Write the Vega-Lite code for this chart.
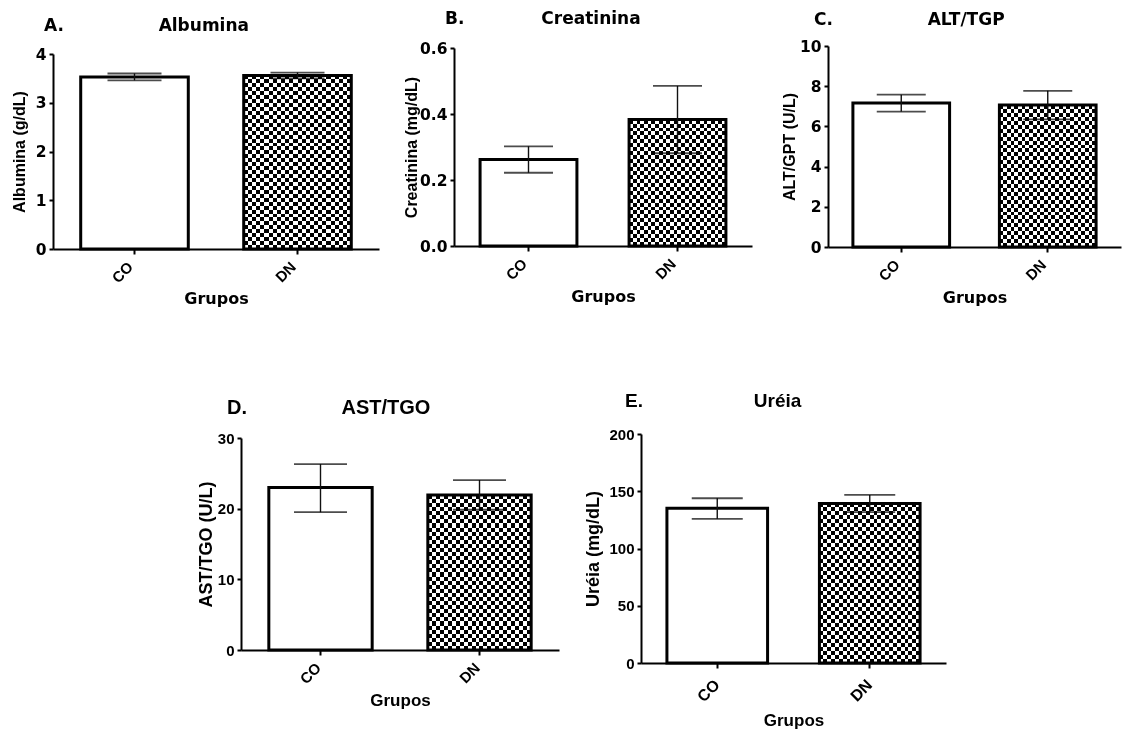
{
  "$schema": "https://vega.github.io/schema/vega-lite/v6.json",
  "padding": {"left": 11, "top": 5, "right": 2, "bottom": 2},
  "background": "white",
  "spacing": 72,
  "vconcat": [
    {
      "spacing": 24,
      "hconcat": [
        {
          "spacing": 0,
          "vconcat": [
            {"width": 1, "height": 11, "data": {"values": []}, "mark": "rule", "encoding": {}},
            {
              "width": 326, "height": 195,
              "title": {"text": "A.\u00a0\u00a0\u00a0\u00a0\u00a0\u00a0\u00a0\u00a0\u00a0\u00a0\u00a0\u00a0\u00a0\u00a0\u00a0\u00a0Albumina", "dx": -9, "offset": 12.5, "fontSize": 17, "font": "DejaVu Sans"},
              "data": {"values": [
                {"grupo": "CO", "media": 3.53, "lo": 3.46, "hi": 3.6},
                {"grupo": "DN", "media": 3.56, "lo": 3.5, "hi": 3.62}
              ]},
              "encoding": {
                "x": {"field": "grupo", "type": "nominal", "sort": ["CO", "DN"], "scale": {"paddingInner": 0, "paddingOuter": 0}, "axis": {"title": "Grupos", "titlePadding": 5, "labelOffset": -4, "titleFont": "DejaVu Sans", "titleFontSize": 16}},
                "y": {"field": "media", "type": "quantitative", "scale": {"domain": [0, 4], "nice": false}, "axis": {"title": "Albumina (g/dL)", "values": [0, 1, 2, 3, 4], "titlePadding": 7.5, "labelFont": "DejaVu Sans", "labelFontSize": 15.5}}
              },
              "layer": [
                {"transform": [{"filter": "datum.grupo === 'DN'"}], "mark": {"type": "bar", "width": {"band": 0.66}, "strokeWidth": 0}},
                {"transform": [{"filter": "datum.grupo === 'DN'"}], "mark": {"type": "bar", "width": {"band": 0.66}, "strokeWidth": 0, "blend": "difference",
                  "fill": {"gradient": "linear", "x1": 0, "y1": 0, "x2": 0, "y2": 1, "stops": [
                    {"offset":0,"color":"#000"},
                    {"offset":0.0227,"color":"#000"},{"offset":0.0227,"color":"#fff"},
                    {"offset":0.0455,"color":"#fff"},{"offset":0.0455,"color":"#000"},
                    {"offset":0.0682,"color":"#000"},{"offset":0.0682,"color":"#fff"},
                    {"offset":0.0909,"color":"#fff"},{"offset":0.0909,"color":"#000"},
                    {"offset":0.1136,"color":"#000"},{"offset":0.1136,"color":"#fff"},
                    {"offset":0.1364,"color":"#fff"},{"offset":0.1364,"color":"#000"},
                    {"offset":0.1591,"color":"#000"},{"offset":0.1591,"color":"#fff"},
                    {"offset":0.1818,"color":"#fff"},{"offset":0.1818,"color":"#000"},
                    {"offset":0.2045,"color":"#000"},{"offset":0.2045,"color":"#fff"},
                    {"offset":0.2273,"color":"#fff"},{"offset":0.2273,"color":"#000"},
                    {"offset":0.25,"color":"#000"},{"offset":0.25,"color":"#fff"},
                    {"offset":0.2727,"color":"#fff"},{"offset":0.2727,"color":"#000"},
                    {"offset":0.2955,"color":"#000"},{"offset":0.2955,"color":"#fff"},
                    {"offset":0.3182,"color":"#fff"},{"offset":0.3182,"color":"#000"},
                    {"offset":0.3409,"color":"#000"},{"offset":0.3409,"color":"#fff"},
                    {"offset":0.3636,"color":"#fff"},{"offset":0.3636,"color":"#000"},
                    {"offset":0.3864,"color":"#000"},{"offset":0.3864,"color":"#fff"},
                    {"offset":0.4091,"color":"#fff"},{"offset":0.4091,"color":"#000"},
                    {"offset":0.4318,"color":"#000"},{"offset":0.4318,"color":"#fff"},
                    {"offset":0.4545,"color":"#fff"},{"offset":0.4545,"color":"#000"},
                    {"offset":0.4773,"color":"#000"},{"offset":0.4773,"color":"#fff"},
                    {"offset":0.5,"color":"#fff"},{"offset":0.5,"color":"#000"},
                    {"offset":0.5227,"color":"#000"},{"offset":0.5227,"color":"#fff"},
                    {"offset":0.5455,"color":"#fff"},{"offset":0.5455,"color":"#000"},
                    {"offset":0.5682,"color":"#000"},{"offset":0.5682,"color":"#fff"},
                    {"offset":0.5909,"color":"#fff"},{"offset":0.5909,"color":"#000"},
                    {"offset":0.6136,"color":"#000"},{"offset":0.6136,"color":"#fff"},
                    {"offset":0.6364,"color":"#fff"},{"offset":0.6364,"color":"#000"},
                    {"offset":0.6591,"color":"#000"},{"offset":0.6591,"color":"#fff"},
                    {"offset":0.6818,"color":"#fff"},{"offset":0.6818,"color":"#000"},
                    {"offset":0.7045,"color":"#000"},{"offset":0.7045,"color":"#fff"},
                    {"offset":0.7273,"color":"#fff"},{"offset":0.7273,"color":"#000"},
                    {"offset":0.75,"color":"#000"},{"offset":0.75,"color":"#fff"},
                    {"offset":0.7727,"color":"#fff"},{"offset":0.7727,"color":"#000"},
                    {"offset":0.7955,"color":"#000"},{"offset":0.7955,"color":"#fff"},
                    {"offset":0.8182,"color":"#fff"},{"offset":0.8182,"color":"#000"},
                    {"offset":0.8409,"color":"#000"},{"offset":0.8409,"color":"#fff"},
                    {"offset":0.8636,"color":"#fff"},{"offset":0.8636,"color":"#000"},
                    {"offset":0.8864,"color":"#000"},{"offset":0.8864,"color":"#fff"},
                    {"offset":0.9091,"color":"#fff"},{"offset":0.9091,"color":"#000"},
                    {"offset":0.9318,"color":"#000"},{"offset":0.9318,"color":"#fff"},
                    {"offset":0.9545,"color":"#fff"},{"offset":0.9545,"color":"#000"},
                    {"offset":0.9773,"color":"#000"},{"offset":0.9773,"color":"#fff"},
                    {"offset":1,"color":"#fff"}
                  ]}}},
                {"mark": {"type": "bar", "width": {"band": 0.66}, "fill": "#fff", "fillOpacity": 0, "stroke": "#000", "strokeWidth": 3}},
                {"mark": {"type": "rule", "stroke": "#111", "strokeWidth": 1.4}, "encoding": {"y": {"field": "lo", "type": "quantitative"}, "y2": {"field": "hi"}}},
                {"mark": {"type": "tick", "size": 54, "thickness": 1.8, "color": "#000"}, "encoding": {"y": {"field": "hi", "type": "quantitative"}}},
                {"mark": {"type": "tick", "size": 54, "thickness": 1.8, "color": "#000"}, "encoding": {"y": {"field": "lo", "type": "quantitative"}}}
              ]
            }
          ]
        },
        {
          "spacing": 0,
          "vconcat": [
            {"width": 303, "height": 5, "data": {"values": []}, "mark": "rule", "encoding": {}},
            {
              "width": 298, "height": 198,
              "title": {"text": "B.\u00a0\u00a0\u00a0\u00a0\u00a0\u00a0\u00a0\u00a0\u00a0\u00a0\u00a0\u00a0\u00a0Creatinina", "dx": -9, "offset": 13, "fontSize": 17, "font": "DejaVu Sans"},
              "data": {"values": [
                {"grupo": "CO", "media": 0.262, "lo": 0.222, "hi": 0.302},
                {"grupo": "DN", "media": 0.383, "lo": 0.281, "hi": 0.485}
              ]},
              "encoding": {
                "x": {"field": "grupo", "type": "nominal", "sort": ["CO", "DN"], "scale": {"paddingInner": 0, "paddingOuter": 0}, "axis": {"title": "Grupos", "titlePadding": 6, "labelOffset": -4, "titleFont": "DejaVu Sans", "titleFontSize": 16}},
                "y": {"field": "media", "type": "quantitative", "scale": {"domain": [0, 0.6], "nice": false}, "axis": {"title": "Creatinina (mg/dL)", "values": [0, 0.2, 0.4, 0.6], "format": ".1f", "titlePadding": 0, "labelFont": "DejaVu Sans", "labelFontSize": 15.5}}
              },
              "layer": [
                {"transform": [{"filter": "datum.grupo === 'DN'"}], "mark": {"type": "bar", "width": {"band": 0.65}, "strokeWidth": 0}},
                {"transform": [{"filter": "datum.grupo === 'DN'"}], "mark": {"type": "bar", "width": {"band": 0.65}, "strokeWidth": 0, "blend": "difference",
                  "fill": {"gradient": "linear", "x1": 0, "y1": 0, "x2": 0, "y2": 1, "stops": [
                    {"offset":0,"color":"#000"},
                    {"offset":0.03125,"color":"#000"},{"offset":0.03125,"color":"#fff"},
                    {"offset":0.0625,"color":"#fff"},{"offset":0.0625,"color":"#000"},
                    {"offset":0.09375,"color":"#000"},{"offset":0.09375,"color":"#fff"},
                    {"offset":0.125,"color":"#fff"},{"offset":0.125,"color":"#000"},
                    {"offset":0.15625,"color":"#000"},{"offset":0.15625,"color":"#fff"},
                    {"offset":0.1875,"color":"#fff"},{"offset":0.1875,"color":"#000"},
                    {"offset":0.21875,"color":"#000"},{"offset":0.21875,"color":"#fff"},
                    {"offset":0.25,"color":"#fff"},{"offset":0.25,"color":"#000"},
                    {"offset":0.28125,"color":"#000"},{"offset":0.28125,"color":"#fff"},
                    {"offset":0.3125,"color":"#fff"},{"offset":0.3125,"color":"#000"},
                    {"offset":0.34375,"color":"#000"},{"offset":0.34375,"color":"#fff"},
                    {"offset":0.375,"color":"#fff"},{"offset":0.375,"color":"#000"},
                    {"offset":0.40625,"color":"#000"},{"offset":0.40625,"color":"#fff"},
                    {"offset":0.4375,"color":"#fff"},{"offset":0.4375,"color":"#000"},
                    {"offset":0.46875,"color":"#000"},{"offset":0.46875,"color":"#fff"},
                    {"offset":0.5,"color":"#fff"},{"offset":0.5,"color":"#000"},
                    {"offset":0.53125,"color":"#000"},{"offset":0.53125,"color":"#fff"},
                    {"offset":0.5625,"color":"#fff"},{"offset":0.5625,"color":"#000"},
                    {"offset":0.59375,"color":"#000"},{"offset":0.59375,"color":"#fff"},
                    {"offset":0.625,"color":"#fff"},{"offset":0.625,"color":"#000"},
                    {"offset":0.65625,"color":"#000"},{"offset":0.65625,"color":"#fff"},
                    {"offset":0.6875,"color":"#fff"},{"offset":0.6875,"color":"#000"},
                    {"offset":0.71875,"color":"#000"},{"offset":0.71875,"color":"#fff"},
                    {"offset":0.75,"color":"#fff"},{"offset":0.75,"color":"#000"},
                    {"offset":0.78125,"color":"#000"},{"offset":0.78125,"color":"#fff"},
                    {"offset":0.8125,"color":"#fff"},{"offset":0.8125,"color":"#000"},
                    {"offset":0.84375,"color":"#000"},{"offset":0.84375,"color":"#fff"},
                    {"offset":0.875,"color":"#fff"},{"offset":0.875,"color":"#000"},
                    {"offset":0.90625,"color":"#000"},{"offset":0.90625,"color":"#fff"},
                    {"offset":0.9375,"color":"#fff"},{"offset":0.9375,"color":"#000"},
                    {"offset":0.96875,"color":"#000"},{"offset":0.96875,"color":"#fff"},
                    {"offset":1,"color":"#fff"}
                  ]}}},
                {"mark": {"type": "bar", "width": {"band": 0.65}, "fill": "#fff", "fillOpacity": 0, "stroke": "#000", "strokeWidth": 3}},
                {"mark": {"type": "rule", "stroke": "#111", "strokeWidth": 1.4}, "encoding": {"y": {"field": "lo", "type": "quantitative"}, "y2": {"field": "hi"}}},
                {"mark": {"type": "tick", "size": 49, "thickness": 1.8, "color": "#000"}, "encoding": {"y": {"field": "hi", "type": "quantitative"}}},
                {"mark": {"type": "tick", "size": 49, "thickness": 1.8, "color": "#000"}, "encoding": {"y": {"field": "lo", "type": "quantitative"}}}
              ]
            }
          ]
        },
        {
          "spacing": 0,
          "vconcat": [
            {"width": 1, "height": 5, "data": {"values": []}, "mark": "rule", "encoding": {}},
            {
              "width": 293, "height": 201,
              "title": {"text": "C.\u00a0\u00a0\u00a0\u00a0\u00a0\u00a0\u00a0\u00a0\u00a0\u00a0\u00a0\u00a0\u00a0\u00a0\u00a0\u00a0ALT/TGP", "dx": -14, "offset": 10.5, "fontSize": 17, "font": "DejaVu Sans"},
              "data": {"values": [
                {"grupo": "CO", "media": 7.16, "lo": 6.74, "hi": 7.58},
                {"grupo": "DN", "media": 7.06, "lo": 6.35, "hi": 7.77}
              ]},
              "encoding": {
                "x": {"field": "grupo", "type": "nominal", "sort": ["CO", "DN"], "scale": {"paddingInner": 0, "paddingOuter": 0}, "axis": {"title": "Grupos", "titlePadding": 6, "labelOffset": -4, "titleFont": "DejaVu Sans", "titleFontSize": 16}},
                "y": {"field": "media", "type": "quantitative", "scale": {"domain": [0, 10], "nice": false}, "axis": {"title": "ALT/GPT (U/L)", "values": [0, 2, 4, 6, 8, 10], "titlePadding": 2, "labelFont": "DejaVu Sans", "labelFontSize": 15.5}}
              },
              "layer": [
                {"transform": [{"filter": "datum.grupo === 'DN'"}], "mark": {"type": "bar", "width": {"band": 0.66}, "strokeWidth": 0}},
                {"transform": [{"filter": "datum.grupo === 'DN'"}], "mark": {"type": "bar", "width": {"band": 0.66}, "strokeWidth": 0, "blend": "difference",
                  "fill": {"gradient": "linear", "x1": 0, "y1": 0, "x2": 0, "y2": 1, "stops": [
                    {"offset":0,"color":"#000"},
                    {"offset":0.0278,"color":"#000"},{"offset":0.0278,"color":"#fff"},
                    {"offset":0.0556,"color":"#fff"},{"offset":0.0556,"color":"#000"},
                    {"offset":0.0833,"color":"#000"},{"offset":0.0833,"color":"#fff"},
                    {"offset":0.1111,"color":"#fff"},{"offset":0.1111,"color":"#000"},
                    {"offset":0.1389,"color":"#000"},{"offset":0.1389,"color":"#fff"},
                    {"offset":0.1667,"color":"#fff"},{"offset":0.1667,"color":"#000"},
                    {"offset":0.1944,"color":"#000"},{"offset":0.1944,"color":"#fff"},
                    {"offset":0.2222,"color":"#fff"},{"offset":0.2222,"color":"#000"},
                    {"offset":0.25,"color":"#000"},{"offset":0.25,"color":"#fff"},
                    {"offset":0.2778,"color":"#fff"},{"offset":0.2778,"color":"#000"},
                    {"offset":0.3056,"color":"#000"},{"offset":0.3056,"color":"#fff"},
                    {"offset":0.3333,"color":"#fff"},{"offset":0.3333,"color":"#000"},
                    {"offset":0.3611,"color":"#000"},{"offset":0.3611,"color":"#fff"},
                    {"offset":0.3889,"color":"#fff"},{"offset":0.3889,"color":"#000"},
                    {"offset":0.4167,"color":"#000"},{"offset":0.4167,"color":"#fff"},
                    {"offset":0.4444,"color":"#fff"},{"offset":0.4444,"color":"#000"},
                    {"offset":0.4722,"color":"#000"},{"offset":0.4722,"color":"#fff"},
                    {"offset":0.5,"color":"#fff"},{"offset":0.5,"color":"#000"},
                    {"offset":0.5278,"color":"#000"},{"offset":0.5278,"color":"#fff"},
                    {"offset":0.5556,"color":"#fff"},{"offset":0.5556,"color":"#000"},
                    {"offset":0.5833,"color":"#000"},{"offset":0.5833,"color":"#fff"},
                    {"offset":0.6111,"color":"#fff"},{"offset":0.6111,"color":"#000"},
                    {"offset":0.6389,"color":"#000"},{"offset":0.6389,"color":"#fff"},
                    {"offset":0.6667,"color":"#fff"},{"offset":0.6667,"color":"#000"},
                    {"offset":0.6944,"color":"#000"},{"offset":0.6944,"color":"#fff"},
                    {"offset":0.7222,"color":"#fff"},{"offset":0.7222,"color":"#000"},
                    {"offset":0.75,"color":"#000"},{"offset":0.75,"color":"#fff"},
                    {"offset":0.7778,"color":"#fff"},{"offset":0.7778,"color":"#000"},
                    {"offset":0.8056,"color":"#000"},{"offset":0.8056,"color":"#fff"},
                    {"offset":0.8333,"color":"#fff"},{"offset":0.8333,"color":"#000"},
                    {"offset":0.8611,"color":"#000"},{"offset":0.8611,"color":"#fff"},
                    {"offset":0.8889,"color":"#fff"},{"offset":0.8889,"color":"#000"},
                    {"offset":0.9167,"color":"#000"},{"offset":0.9167,"color":"#fff"},
                    {"offset":0.9444,"color":"#fff"},{"offset":0.9444,"color":"#000"},
                    {"offset":0.9722,"color":"#000"},{"offset":0.9722,"color":"#fff"},
                    {"offset":1,"color":"#fff"}
                  ]}}},
                {"mark": {"type": "bar", "width": {"band": 0.66}, "fill": "#fff", "fillOpacity": 0, "stroke": "#000", "strokeWidth": 3}},
                {"mark": {"type": "rule", "stroke": "#111", "strokeWidth": 1.4}, "encoding": {"y": {"field": "lo", "type": "quantitative"}, "y2": {"field": "hi"}}},
                {"mark": {"type": "tick", "size": 49, "thickness": 1.8, "color": "#000"}, "encoding": {"y": {"field": "hi", "type": "quantitative"}}},
                {"mark": {"type": "tick", "size": 49, "thickness": 1.8, "color": "#000"}, "encoding": {"y": {"field": "lo", "type": "quantitative"}}}
              ]
            }
          ]
        }
      ]
    },
    {
      "spacing": 25,
      "hconcat": [
        {"width": 119, "height": 1, "data": {"values": []}, "mark": "rule", "encoding": {}},
        {
          "spacing": 0,
          "vconcat": [
            {"width": 1, "height": 19, "data": {"values": []}, "mark": "rule", "encoding": {}},
            {
              "width": 318, "height": 212,
              "title": {"text": "D.\u00a0\u00a0\u00a0\u00a0\u00a0\u00a0\u00a0\u00a0\u00a0\u00a0\u00a0\u00a0\u00a0\u00a0\u00a0\u00a0\u00a0AST/TGO", "dx": -14, "offset": 13, "fontSize": 20},
              "data": {"values": [
                {"grupo": "CO", "media": 23.0, "lo": 19.5, "hi": 26.3},
                {"grupo": "DN", "media": 21.95, "lo": 19.85, "hi": 24.05}
              ]},
              "encoding": {
                "x": {"field": "grupo", "type": "nominal", "sort": ["CO", "DN"], "scale": {"paddingInner": 0, "paddingOuter": 0}, "axis": {"title": "Grupos", "titlePadding": 6, "labelOffset": -2}},
                "y": {"field": "media", "type": "quantitative", "scale": {"domain": [0, 30], "nice": false}, "axis": {"title": "AST/TGO (U/L)", "values": [0, 10, 20, 30], "titlePadding": 2, "titleFontSize": 18}}
              },
              "layer": [
                {"transform": [{"filter": "datum.grupo === 'DN'"}], "mark": {"type": "bar", "width": {"band": 0.65}, "strokeWidth": 0}},
                {"transform": [{"filter": "datum.grupo === 'DN'"}], "mark": {"type": "bar", "width": {"band": 0.65}, "strokeWidth": 0, "blend": "difference",
                  "fill": {"gradient": "linear", "x1": 0, "y1": 0, "x2": 0, "y2": 1, "stops": [
                    {"offset":0,"color":"#000"},
                    {"offset":0.0263,"color":"#000"},{"offset":0.0263,"color":"#fff"},
                    {"offset":0.0526,"color":"#fff"},{"offset":0.0526,"color":"#000"},
                    {"offset":0.0789,"color":"#000"},{"offset":0.0789,"color":"#fff"},
                    {"offset":0.1053,"color":"#fff"},{"offset":0.1053,"color":"#000"},
                    {"offset":0.1316,"color":"#000"},{"offset":0.1316,"color":"#fff"},
                    {"offset":0.1579,"color":"#fff"},{"offset":0.1579,"color":"#000"},
                    {"offset":0.1842,"color":"#000"},{"offset":0.1842,"color":"#fff"},
                    {"offset":0.2105,"color":"#fff"},{"offset":0.2105,"color":"#000"},
                    {"offset":0.2368,"color":"#000"},{"offset":0.2368,"color":"#fff"},
                    {"offset":0.2632,"color":"#fff"},{"offset":0.2632,"color":"#000"},
                    {"offset":0.2895,"color":"#000"},{"offset":0.2895,"color":"#fff"},
                    {"offset":0.3158,"color":"#fff"},{"offset":0.3158,"color":"#000"},
                    {"offset":0.3421,"color":"#000"},{"offset":0.3421,"color":"#fff"},
                    {"offset":0.3684,"color":"#fff"},{"offset":0.3684,"color":"#000"},
                    {"offset":0.3947,"color":"#000"},{"offset":0.3947,"color":"#fff"},
                    {"offset":0.4211,"color":"#fff"},{"offset":0.4211,"color":"#000"},
                    {"offset":0.4474,"color":"#000"},{"offset":0.4474,"color":"#fff"},
                    {"offset":0.4737,"color":"#fff"},{"offset":0.4737,"color":"#000"},
                    {"offset":0.5,"color":"#000"},{"offset":0.5,"color":"#fff"},
                    {"offset":0.5263,"color":"#fff"},{"offset":0.5263,"color":"#000"},
                    {"offset":0.5526,"color":"#000"},{"offset":0.5526,"color":"#fff"},
                    {"offset":0.5789,"color":"#fff"},{"offset":0.5789,"color":"#000"},
                    {"offset":0.6053,"color":"#000"},{"offset":0.6053,"color":"#fff"},
                    {"offset":0.6316,"color":"#fff"},{"offset":0.6316,"color":"#000"},
                    {"offset":0.6579,"color":"#000"},{"offset":0.6579,"color":"#fff"},
                    {"offset":0.6842,"color":"#fff"},{"offset":0.6842,"color":"#000"},
                    {"offset":0.7105,"color":"#000"},{"offset":0.7105,"color":"#fff"},
                    {"offset":0.7368,"color":"#fff"},{"offset":0.7368,"color":"#000"},
                    {"offset":0.7632,"color":"#000"},{"offset":0.7632,"color":"#fff"},
                    {"offset":0.7895,"color":"#fff"},{"offset":0.7895,"color":"#000"},
                    {"offset":0.8158,"color":"#000"},{"offset":0.8158,"color":"#fff"},
                    {"offset":0.8421,"color":"#fff"},{"offset":0.8421,"color":"#000"},
                    {"offset":0.8684,"color":"#000"},{"offset":0.8684,"color":"#fff"},
                    {"offset":0.8947,"color":"#fff"},{"offset":0.8947,"color":"#000"},
                    {"offset":0.9211,"color":"#000"},{"offset":0.9211,"color":"#fff"},
                    {"offset":0.9474,"color":"#fff"},{"offset":0.9474,"color":"#000"},
                    {"offset":0.9737,"color":"#000"},{"offset":0.9737,"color":"#fff"},
                    {"offset":1,"color":"#fff"}
                  ]}}},
                {"mark": {"type": "bar", "width": {"band": 0.65}, "fill": "#fff", "fillOpacity": 0, "stroke": "#000", "strokeWidth": 3}},
                {"mark": {"type": "rule", "stroke": "#111", "strokeWidth": 1.4}, "encoding": {"y": {"field": "lo", "type": "quantitative"}, "y2": {"field": "hi"}}},
                {"mark": {"type": "tick", "size": 53, "thickness": 1.8, "color": "#000"}, "encoding": {"y": {"field": "hi", "type": "quantitative"}}},
                {"mark": {"type": "tick", "size": 53, "thickness": 1.8, "color": "#000"}, "encoding": {"y": {"field": "lo", "type": "quantitative"}}}
              ]
            }
          ]
        },
        {
          "spacing": 0,
          "vconcat": [
            {"width": 1, "height": 12, "data": {"values": []}, "mark": "rule", "encoding": {}},
            {
              "width": 305, "height": 229,
              "title": {"text": "E.\u00a0\u00a0\u00a0\u00a0\u00a0\u00a0\u00a0\u00a0\u00a0\u00a0\u00a0\u00a0\u00a0\u00a0\u00a0\u00a0\u00a0\u00a0\u00a0\u00a0\u00a0Uréia", "dx": -16, "offset": 16.5, "fontSize": 19},
              "data": {"values": [
                {"grupo": "CO", "media": 135.2, "lo": 125.9, "hi": 143.9},
                {"grupo": "DN", "media": 139.3, "lo": 131.8, "hi": 146.8}
              ]},
              "encoding": {
                "x": {"field": "grupo", "type": "nominal", "sort": ["CO", "DN"], "scale": {"paddingInner": 0, "paddingOuter": 0}, "axis": {"title": "Grupos", "titlePadding": 8, "labelPadding": 14, "labelFontSize": 16}},
                "y": {"field": "media", "type": "quantitative", "scale": {"domain": [0, 200], "nice": false}, "axis": {"title": "Uréia (mg/dL)", "values": [0, 50, 100, 150, 200], "titlePadding": 6, "titleFontSize": 18}}
              },
              "layer": [
                {"transform": [{"filter": "datum.grupo === 'DN'"}], "mark": {"type": "bar", "width": {"band": 0.66}, "strokeWidth": 0}},
                {"transform": [{"filter": "datum.grupo === 'DN'"}], "mark": {"type": "bar", "width": {"band": 0.66}, "strokeWidth": 0, "blend": "difference",
                  "fill": {"gradient": "linear", "x1": 0, "y1": 0, "x2": 0, "y2": 1, "stops": [
                    {"offset":0,"color":"#000"},
                    {"offset":0.025,"color":"#000"},{"offset":0.025,"color":"#fff"},
                    {"offset":0.05,"color":"#fff"},{"offset":0.05,"color":"#000"},
                    {"offset":0.075,"color":"#000"},{"offset":0.075,"color":"#fff"},
                    {"offset":0.1,"color":"#fff"},{"offset":0.1,"color":"#000"},
                    {"offset":0.125,"color":"#000"},{"offset":0.125,"color":"#fff"},
                    {"offset":0.15,"color":"#fff"},{"offset":0.15,"color":"#000"},
                    {"offset":0.175,"color":"#000"},{"offset":0.175,"color":"#fff"},
                    {"offset":0.2,"color":"#fff"},{"offset":0.2,"color":"#000"},
                    {"offset":0.225,"color":"#000"},{"offset":0.225,"color":"#fff"},
                    {"offset":0.25,"color":"#fff"},{"offset":0.25,"color":"#000"},
                    {"offset":0.275,"color":"#000"},{"offset":0.275,"color":"#fff"},
                    {"offset":0.3,"color":"#fff"},{"offset":0.3,"color":"#000"},
                    {"offset":0.325,"color":"#000"},{"offset":0.325,"color":"#fff"},
                    {"offset":0.35,"color":"#fff"},{"offset":0.35,"color":"#000"},
                    {"offset":0.375,"color":"#000"},{"offset":0.375,"color":"#fff"},
                    {"offset":0.4,"color":"#fff"},{"offset":0.4,"color":"#000"},
                    {"offset":0.425,"color":"#000"},{"offset":0.425,"color":"#fff"},
                    {"offset":0.45,"color":"#fff"},{"offset":0.45,"color":"#000"},
                    {"offset":0.475,"color":"#000"},{"offset":0.475,"color":"#fff"},
                    {"offset":0.5,"color":"#fff"},{"offset":0.5,"color":"#000"},
                    {"offset":0.525,"color":"#000"},{"offset":0.525,"color":"#fff"},
                    {"offset":0.55,"color":"#fff"},{"offset":0.55,"color":"#000"},
                    {"offset":0.575,"color":"#000"},{"offset":0.575,"color":"#fff"},
                    {"offset":0.6,"color":"#fff"},{"offset":0.6,"color":"#000"},
                    {"offset":0.625,"color":"#000"},{"offset":0.625,"color":"#fff"},
                    {"offset":0.65,"color":"#fff"},{"offset":0.65,"color":"#000"},
                    {"offset":0.675,"color":"#000"},{"offset":0.675,"color":"#fff"},
                    {"offset":0.7,"color":"#fff"},{"offset":0.7,"color":"#000"},
                    {"offset":0.725,"color":"#000"},{"offset":0.725,"color":"#fff"},
                    {"offset":0.75,"color":"#fff"},{"offset":0.75,"color":"#000"},
                    {"offset":0.775,"color":"#000"},{"offset":0.775,"color":"#fff"},
                    {"offset":0.8,"color":"#fff"},{"offset":0.8,"color":"#000"},
                    {"offset":0.825,"color":"#000"},{"offset":0.825,"color":"#fff"},
                    {"offset":0.85,"color":"#fff"},{"offset":0.85,"color":"#000"},
                    {"offset":0.875,"color":"#000"},{"offset":0.875,"color":"#fff"},
                    {"offset":0.9,"color":"#fff"},{"offset":0.9,"color":"#000"},
                    {"offset":0.925,"color":"#000"},{"offset":0.925,"color":"#fff"},
                    {"offset":0.95,"color":"#fff"},{"offset":0.95,"color":"#000"},
                    {"offset":0.975,"color":"#000"},{"offset":0.975,"color":"#fff"},
                    {"offset":1,"color":"#fff"}
                  ]}}},
                {"mark": {"type": "bar", "width": {"band": 0.66}, "fill": "#fff", "fillOpacity": 0, "stroke": "#000", "strokeWidth": 3}},
                {"mark": {"type": "rule", "stroke": "#111", "strokeWidth": 1.4}, "encoding": {"y": {"field": "lo", "type": "quantitative"}, "y2": {"field": "hi"}}},
                {"mark": {"type": "tick", "size": 51, "thickness": 1.8, "color": "#000"}, "encoding": {"y": {"field": "hi", "type": "quantitative"}}},
                {"mark": {"type": "tick", "size": 51, "thickness": 1.8, "color": "#000"}, "encoding": {"y": {"field": "lo", "type": "quantitative"}}}
              ]
            }
          ]
        }
      ]
    }
  ],
  "config": {
    "font": "Liberation Sans",
    "view": {"stroke": null},
    "title": {"fontSize": 19, "fontWeight": "bold", "color": "#000", "anchor": "start", "frame": "group", "font": "Liberation Sans"},
    "axis": {"grid": false, "domainColor": "#000", "domainWidth": 2, "tickColor": "#000", "tickWidth": 2, "labelColor": "#000", "labelFont": "Liberation Sans", "labelFontWeight": "bold", "labelFontSize": 15, "titleColor": "#000", "titleFont": "Liberation Sans", "titleFontWeight": "bold"},
    "axisX": {"tickSize": 5, "labelAngle": -45, "labelBaseline": "middle", "labelAlign": "right", "labelPadding": 10, "titleFontSize": 17},
    "axisY": {"tickSize": 4, "labelPadding": 3, "titleFontSize": 16},
    "bar": {"fill": {"gradient": "linear", "x1": 0, "y1": 0, "x2": 1, "y2": 0, "stops": [
      {"offset":0,"color":"#000"},
      {"offset":0.0385,"color":"#000"},{"offset":0.0385,"color":"#fff"},
      {"offset":0.0769,"color":"#fff"},{"offset":0.0769,"color":"#000"},
      {"offset":0.1154,"color":"#000"},{"offset":0.1154,"color":"#fff"},
      {"offset":0.1538,"color":"#fff"},{"offset":0.1538,"color":"#000"},
      {"offset":0.1923,"color":"#000"},{"offset":0.1923,"color":"#fff"},
      {"offset":0.2308,"color":"#fff"},{"offset":0.2308,"color":"#000"},
      {"offset":0.2692,"color":"#000"},{"offset":0.2692,"color":"#fff"},
      {"offset":0.3077,"color":"#fff"},{"offset":0.3077,"color":"#000"},
      {"offset":0.3462,"color":"#000"},{"offset":0.3462,"color":"#fff"},
      {"offset":0.3846,"color":"#fff"},{"offset":0.3846,"color":"#000"},
      {"offset":0.4231,"color":"#000"},{"offset":0.4231,"color":"#fff"},
      {"offset":0.4615,"color":"#fff"},{"offset":0.4615,"color":"#000"},
      {"offset":0.5,"color":"#000"},{"offset":0.5,"color":"#fff"},
      {"offset":0.5385,"color":"#fff"},{"offset":0.5385,"color":"#000"},
      {"offset":0.5769,"color":"#000"},{"offset":0.5769,"color":"#fff"},
      {"offset":0.6154,"color":"#fff"},{"offset":0.6154,"color":"#000"},
      {"offset":0.6538,"color":"#000"},{"offset":0.6538,"color":"#fff"},
      {"offset":0.6923,"color":"#fff"},{"offset":0.6923,"color":"#000"},
      {"offset":0.7308,"color":"#000"},{"offset":0.7308,"color":"#fff"},
      {"offset":0.7692,"color":"#fff"},{"offset":0.7692,"color":"#000"},
      {"offset":0.8077,"color":"#000"},{"offset":0.8077,"color":"#fff"},
      {"offset":0.8462,"color":"#fff"},{"offset":0.8462,"color":"#000"},
      {"offset":0.8846,"color":"#000"},{"offset":0.8846,"color":"#fff"},
      {"offset":0.9231,"color":"#fff"},{"offset":0.9231,"color":"#000"},
      {"offset":0.9615,"color":"#000"},{"offset":0.9615,"color":"#fff"},
      {"offset":1,"color":"#fff"}
    ]}}
  }
}
